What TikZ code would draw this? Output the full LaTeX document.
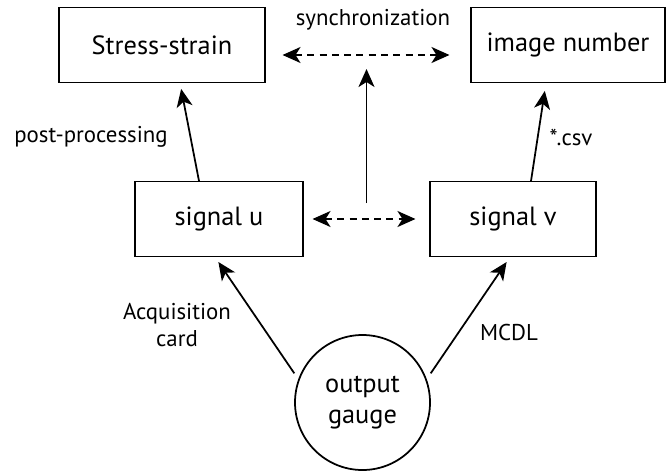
\documentclass[tikz,border=0pt]{standalone}
\usepackage{fontspec}
\setmainfont{PT Sans}
\usepackage{tikz}
\usetikzlibrary{arrows.meta,positioning,calc}

\begin{document}
\begin{tikzpicture}[
    box/.style={draw, rectangle, line width=0.6pt, minimum height=1.5cm, font=\fontsize{15}{17}\selectfont},
    gauge/.style={draw, circle, line width=1pt, minimum size=2.7cm, inner sep=0pt, align=center, font=\fontsize{15}{17.6}\selectfont},
    arr/.style={line width=1pt, -{Stealth[length=0.36cm, width=0.32cm, inset=0.1cm]}},
    syncarr/.style={line width=1pt, dash pattern=on 4pt off 3pt, {Stealth[length=0.36cm, width=0.32cm, inset=0.1cm]}-{Stealth[length=0.36cm, width=0.32cm, inset=0.1cm]}},
    lbl/.style={font=\fontsize{13}{15.5}\selectfont, align=center}
  ]
  \useasboundingbox (0,0) rectangle (13.32,9.4);

  % boxes
  \node[box, minimum width=4.12cm] (ss) at (3.24,8.5) {Stress-strain};
  \node[box, minimum width=3.88cm] (in) at (11.36,8.5) {image number};
  \node[box, minimum width=3.36cm] (su) at (4.38,5.02) {signal u};
  \node[box, minimum width=3.32cm] (sv) at (10.26,5.02) {signal v};
  \node[gauge] (og) at (7.25,1.35) {output\\gauge};

  \coordinate (lowmid) at ($(su.east)!0.5!(sv.west)$);
  \coordinate (upmid) at ($(ss.east)!0.5!(in.west)$);

  % arrows
  \draw[arr, shorten >=0.12cm] ([xshift=-0.4cm]su.north) -- ([xshift=0.36cm]ss.south);
  \draw[arr, shorten >=0.16cm] ([xshift=0.36cm]sv.north) -- ([xshift=-0.44cm]in.south);
  \draw[arr, shorten <=0.14cm, shorten >=0.12cm] (og.160) -- ([xshift=-0.08cm]su.south);
  \draw[arr, shorten <=0.14cm, shorten >=0.12cm] (og.20) -- ([xshift=-0.06cm]sv.south);
  \draw[syncarr, shorten <=0.34cm, shorten >=0.42cm] ([yshift=-0.2cm]ss.east) -- ([yshift=-0.2cm]in.west);
  \draw[syncarr, shorten <=0.18cm, shorten >=0.28cm] (su.east) -- (sv.west);
  \draw[arr, shorten <=0.32cm, shorten >=0.48cm] (lowmid) -- (lowmid |- upmid);

  % labels
  \node[lbl] (synclbl) at (7.46,9.0) {synchronization};
  \node[lbl] (pplbl) at (1.82,6.66) {post-processing};
  \node[lbl] (csvlbl) at (11.42,6.66) {*.csv};
  \node[lbl] (acqlbl) at (3.54,2.9) {Acquisition\\card};
  \node[lbl] (mcdllbl) at (10.18,2.76) {MCDL};
\end{tikzpicture}
\end{document}
